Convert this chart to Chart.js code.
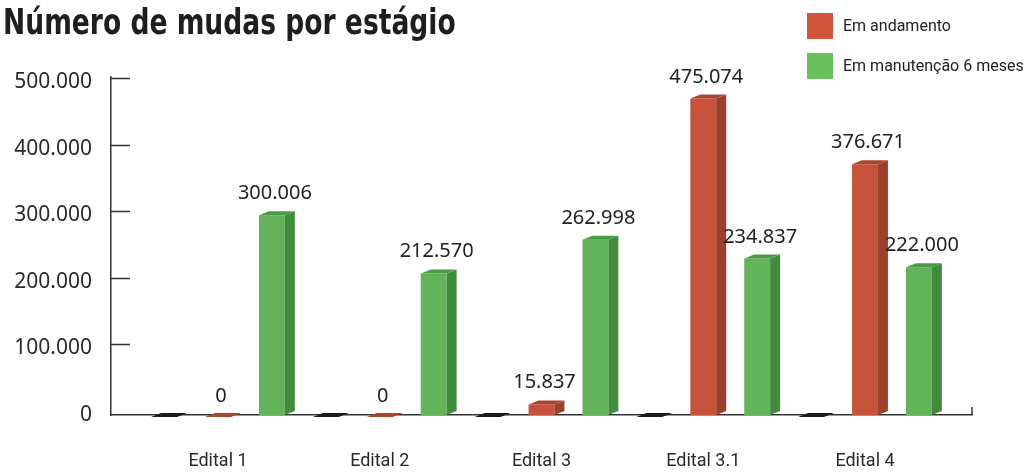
<!DOCTYPE html>
<html>
<head>
<meta charset="utf-8">
<script src="https://cdn.jsdelivr.net/npm/chart.js@4"></script>
<style>
  body { margin: 0; background: #fff; }
  #wrap { position: relative; width: 1023px; height: 472px; }
  #titulo {
    position: absolute; left: 3px; top: 4px; margin: 0;
    font: bold 36px/36px "Liberation Sans Narrow", "DejaVu Sans Condensed", sans-serif;
    font-stretch: condensed; color: #1e1e1e; white-space: nowrap;
    transform: scaleX(0.82); transform-origin: left top;
  }
  .leg { position: absolute; left: 807px; font: 16px Roboto, sans-serif; color: #222; }
  .leg span.box { position: absolute; left: 0; top: 0; width: 26px; height: 26px; }
  .leg span.txt { position: absolute; left: 36px; top: 3px; white-space: nowrap; line-height: 20px; }
</style>
</head>
<body>
<div id="wrap">
  <canvas id="grafico" width="1023" height="472"></canvas>
  <h1 id="titulo">Número de mudas por estágio</h1>
  <div class="leg" style="top:13px"><span class="box" style="background:#cf553b"></span><span class="txt">Em andamento</span></div>
  <div class="leg" style="top:53px"><span class="box" style="background:#6cbf5f"></span><span class="txt">Em manutenção 6 meses</span></div>
</div>
<script>
// dados
const editais = ['Edital 1', 'Edital 2', 'Edital 3', 'Edital 3.1', 'Edital 4'];
const semDados = [0, 0, 0, 0, 0];
const emAndamento = [0, 0, 15837, 475074, 376671];
const emManutencao = [300006, 212570, 262998, 234837, 222000];
const yTicks = [0, 100000, 200000, 300000, 400000, 500000];

const fmt = v => String(v).replace(/\B(?=(\d{3})+(?!\d))/g, '.');
const pts = arr => arr.map((v, i) => ({ x: i, y: v }));

// cores: frente, lado, topo
const cores = [
  { front: '#2a2a2a', side: '#111', top: '#1c1c1c' },
  { front: '#c6523a', side: '#9c3f2b', top: '#a9452f' },
  { front: '#63b35a', side: '#418b3c', top: '#4c9946' }
];

// barras 3D: lado e topo desenhados a partir dos elementos do Chart.js
const barras3d = {
  id: 'barras3d',
  afterDatasetsDraw(chart) {
    const c = chart.ctx;
    const dx = 10, dy = 4;
    chart.data.datasets.forEach((ds, di) => {
      const meta = chart.getDatasetMeta(di);
      meta.data.forEach(bar => {
        const { x, y, base, width } = bar.getProps(['x', 'y', 'base', 'width'], true);
        const l = x - width / 2, r = x + width / 2;
        c.save();
        if (base - y < 1) {
          c.fillStyle = cores[di].top;
          c.beginPath();
          c.moveTo(l, base + 2);
          c.lineTo(r, base + 2);
          c.lineTo(r + dx, base - 2);
          c.lineTo(l + dx, base - 2);
          c.closePath();
          c.fill();
        } else {
          c.fillStyle = cores[di].side;
          c.beginPath();
          c.moveTo(r, y);
          c.lineTo(r + dx, y - dy);
          c.lineTo(r + dx, base - dy);
          c.lineTo(r, base);
          c.closePath();
          c.fill();
          c.fillStyle = cores[di].top;
          c.beginPath();
          c.moveTo(l, y);
          c.lineTo(l + dx, y - dy);
          c.lineTo(r + dx, y - dy);
          c.lineTo(r, y);
          c.closePath();
          c.fill();
        }
        c.restore();
      });
    });
    // rótulos de valor
    c.save();
    c.font = '20px "Noto Sans", sans-serif';
    c.fillStyle = '#222';
    c.textAlign = 'center';
    c.textBaseline = 'alphabetic';
    [1, 2].forEach(di => {
      const meta = chart.getDatasetMeta(di);
      meta.data.forEach((bar, i) => {
        const v = chart.data.datasets[di].data[i].y;
        const gap = bar.base - bar.y > 1 ? 16 : 13;
        c.fillText(fmt(v), bar.x + 3, bar.y - gap);
      });
    });
    c.restore();
  }
};

// marcas do eixo y para dentro + traço no fim do eixo x
const marcas = {
  id: 'marcas',
  afterDraw(chart) {
    const c = chart.ctx, a = chart.chartArea, ys = chart.scales.y;
    c.save();
    c.strokeStyle = '#333';
    c.lineWidth = 1.5;
    c.beginPath();
    yTicks.forEach(t => {
      if (!t) return;
      const py = Math.round(ys.getPixelForValue(t)) - 4 + 0.5;
      c.moveTo(a.left, py);
      c.lineTo(a.left + 19, py);
    });
    c.moveTo(a.right, a.bottom);
    c.lineTo(a.right, a.bottom - 8);
    c.stroke();
    c.restore();
  }
};

new Chart(document.getElementById('grafico'), {
  type: 'bar',
  data: {
    datasets: [
      { label: '', data: pts(semDados), backgroundColor: cores[0].front },
      { label: 'Em andamento', data: pts(emAndamento), backgroundColor: cores[1].front },
      { label: 'Em manutenção 6 meses', data: pts(emManutencao), backgroundColor: cores[2].front }
    ]
  },
  options: {
    responsive: false,
    animation: false,
    datasets: { bar: { categoryPercentage: 1, barPercentage: 0.48 } },
    layout: { padding: { top: 77, right: 51, left: 0, bottom: 0 } },
    plugins: { legend: { display: false }, tooltip: { enabled: false }, title: { display: false } },
    scales: {
      x: {
        type: 'linear', offset: false, min: -0.6615, max: 4.6615,
        afterBuildTicks: s => { s.ticks = editais.map((e, i) => ({ value: i })); },
        afterFit: s => { s.height = 57; },
        grid: { display: false, drawTicks: false },
        border: { display: true, color: '#333', width: 1.5 },
        ticks: {
          padding: 36, color: '#2a2a2a', font: { family: 'Roboto', size: 18 },
          callback: v => editais[v] ?? ''
        }
      },
      y: {
        min: 0, max: 507500,
        afterBuildTicks: s => { s.ticks = yTicks.map(v => ({ value: v })); },
        afterFit: s => { s.width = 111; },
        grid: { display: false, drawTicks: false },
        border: { display: true, color: '#333', width: 1.5 },
        ticks: {
          padding: 19, color: '#2a2a2a', font: { family: '"Noto Sans"', size: 21 },
          callback: v => fmt(v)
        }
      }
    }
  },
  plugins: [barras3d, marcas]
});
</script>
</body>
</html>
